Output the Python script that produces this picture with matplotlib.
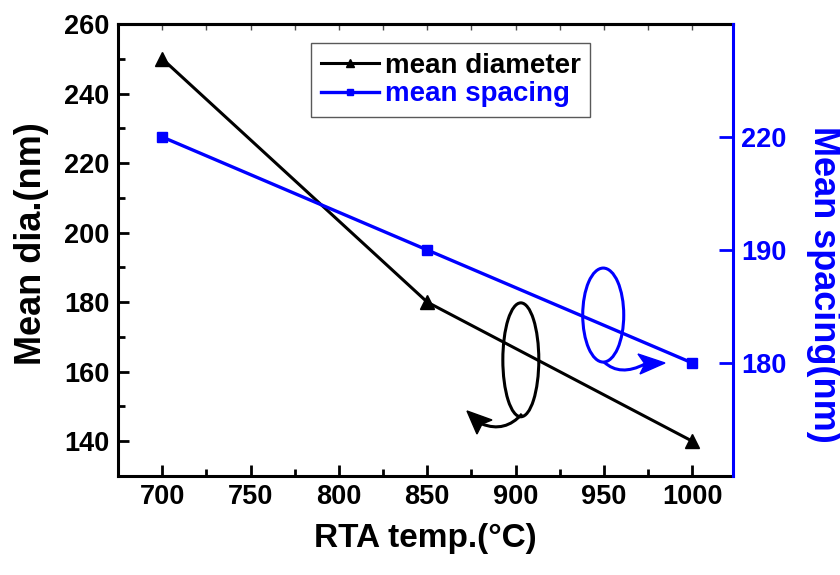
import numpy as np
import matplotlib
matplotlib.use('Agg')
import matplotlib.pyplot as plt
from matplotlib.patches import Ellipse, PathPatch, Polygon
from matplotlib.path import Path
from matplotlib.ticker import MultipleLocator, NullLocator

# data
temps = [700, 850, 1000]
mean_dia = [250, 180, 140]
mean_spacing = [220, 190, 180]
spacing_ticks = [220, 190, 180]

# the right axis of the original is not linear: 220, 190, 180 sit equally spaced
sp_vals = [170, 180, 190, 220, 250]
sp_pos = [-1, 0, 1, 2, 3]


def sp_fwd(v):
    return np.interp(v, sp_vals, sp_pos)


def sp_inv(p):
    return np.interp(p, sp_pos, sp_vals)


def curved_arrow(ax, start, ctrl, end, head, color):
    # quadratic bezier tail + stealth style head, all in axes fraction
    path = Path([start, ctrl, end], [Path.MOVETO, Path.CURVE3, Path.CURVE3])
    ax.add_patch(PathPatch(path, transform=ax.transAxes, fill=False, ec=color, lw=2.2))
    ax.add_patch(Polygon(head, closed=True, transform=ax.transAxes, fc=color, ec=color, lw=1))


plt.rcParams['font.family'] = ['Liberation Sans', 'DejaVu Sans']
plt.rcParams['font.weight'] = 'bold'
plt.rcParams['axes.labelweight'] = 'bold'

fig = plt.figure(figsize=(8.4, 5.75), dpi=100)
ax = fig.add_axes([0.1405, 0.1722, 0.7321, 0.7861])

ax.plot(temps, mean_dia, color='black', lw=2.2, marker='^', ms=9.5, label='mean diameter')
ax.set_xlim(675, 1023)
ax.set_ylim(130, 260)
ax.set_xticks(range(700, 1001, 50))
ax.xaxis.set_minor_locator(MultipleLocator(25))
ax.set_yticks(range(140, 261, 20))
ax.yaxis.set_minor_locator(MultipleLocator(10))

ax.tick_params(which='major', direction='in', length=8, width=2, labelsize=19.5, pad=6)
ax.tick_params(which='minor', direction='in', length=5, width=2)
ax.tick_params(right=False, top=False)
for s in ['left', 'bottom', 'top']:
    ax.spines[s].set_linewidth(2.2)
ax.spines['right'].set_visible(False)

top = ax.secondary_xaxis('top')
top.set_xticks(range(700, 1001, 50))
top.xaxis.set_minor_locator(MultipleLocator(25))
top.tick_params(which='both', direction='in', length=4, width=1, labeltop=False, color='0.3')
top.spines['top'].set_linewidth(2.2)

ax2 = ax.twinx()
ax2.set_yscale('function', functions=(sp_fwd, sp_inv))
ax2.plot(temps, mean_spacing, color='blue', lw=2.4, marker='s', ms=6.5, label='mean spacing')
ax2.set_ylim(170, 250)
ax2.set_yticks(spacing_ticks)
ax2.set_yticklabels([str(v) for v in spacing_ticks])
ax2.yaxis.set_minor_locator(NullLocator())
ax2.tick_params(axis='y', colors='blue', direction='in', length=10, width=2, labelsize=19.5, pad=6)
for s in ['left', 'bottom', 'top']:
    ax2.spines[s].set_visible(False)
ax2.spines['right'].set_color('blue')
ax2.spines['right'].set_linewidth(2.2)

ax.set_xlabel('RTA temp.(\u00b0C)', fontsize=24, fontweight='bold')
ax.xaxis.set_label_coords(0.5, -0.105)
ax.set_ylabel('Mean dia.(nm)', fontsize=26, fontweight='bold')
ax.yaxis.set_label_coords(-0.112, 0.515)
ax2.set_ylabel('Mean spacing(nm)', fontsize=26, fontweight='bold', color='blue',
               rotation=270, va='bottom')
ax2.yaxis.set_label_coords(1.118, 0.423)

h1, l1 = ax.get_legend_handles_labels()
h2, l2 = ax2.get_legend_handles_labels()
leg = ax2.legend(h1 + h2, l1 + l2, loc='upper left', bbox_to_anchor=(0.314, 0.958),
                 fontsize=20, fancybox=False, edgecolor='0.35', framealpha=1,
                 handlelength=2.1, handletextpad=0.2, labelspacing=0.1,
                 borderpad=0.35, borderaxespad=0, markerscale=0.6)
leg.get_frame().set_linewidth(1)
for txt, c in zip(leg.get_texts(), ['black', 'blue']):
    txt.set_color(c)

# ellipses with curved arrows pointing to each axis
ax2.add_patch(Ellipse((0.655, 0.257), 0.0585, 0.252, transform=ax2.transAxes,
                      fill=False, ec='black', lw=2.2))
curved_arrow(ax2, (0.6569, 0.1372), (0.6293, 0.0951), (0.5919, 0.1150),
             [(0.5675, 0.1438), (0.6081, 0.1239), (0.5919, 0.1150), (0.5837, 0.0929)],
             'black')
ax2.add_patch(Ellipse((0.789, 0.356), 0.0667, 0.208, transform=ax2.transAxes,
                      fill=False, ec='blue', lw=2.2))
curved_arrow(ax2, (0.7902, 0.2522), (0.8163, 0.2190), (0.8569, 0.2478),
             [(0.8894, 0.2500), (0.8455, 0.2699), (0.8569, 0.2478), (0.8488, 0.2257)],
             'blue')

fig.savefig('out.png', dpi=100)
